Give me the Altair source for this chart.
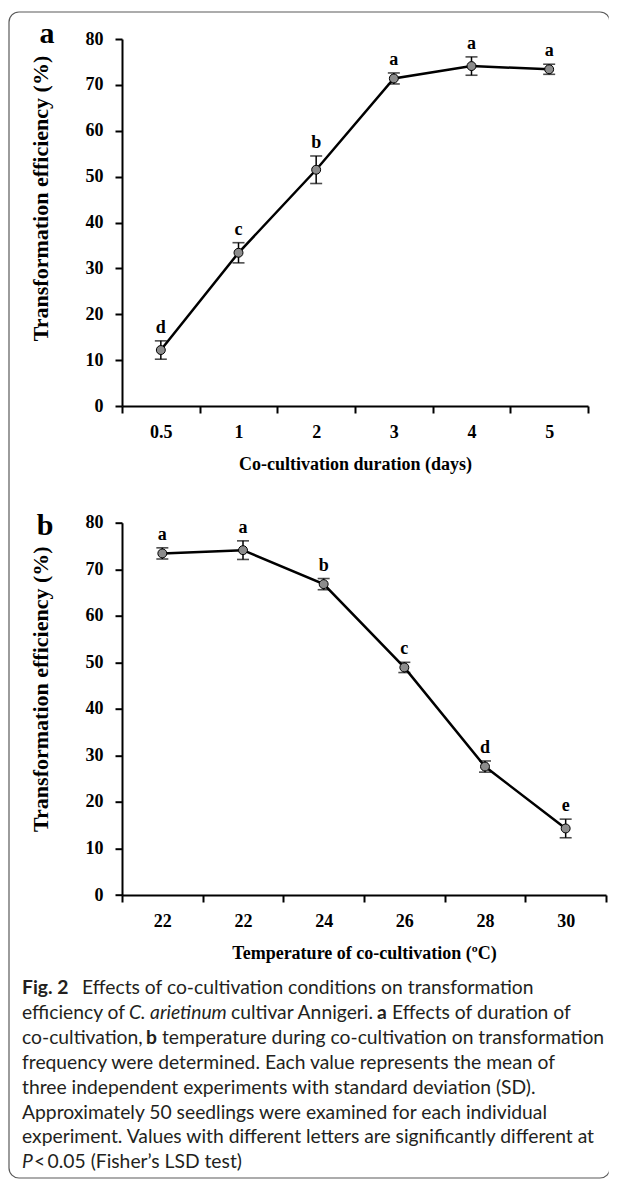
import json
import altair as alt
import pandas as pd

# ---------------- data ----------------
a_labels = ["0.5", "1", "2", "3", "4", "5"]
a_mean = [12.2, 33.4, 51.5, 71.4, 74.1, 73.4]
a_sd = [2.0, 2.2, 3.0, 1.2, 2.0, 1.1]
a_letters = ["d", "c", "b", "a", "a", "a"]

b_labels = ["22", "22", "24", "26", "28", "30"]
b_mean = [73.4, 74.1, 66.8, 48.9, 27.6, 14.3]
b_sd = [1.2, 2.0, 1.2, 1.1, 1.2, 2.0]
b_letters = ["a", "a", "b", "c", "d", "e"]

y_ticks = [0, 10, 20, 30, 40, 50, 60, 70, 80]

caption_text = [
    [("Fig. 2", "bold"), ("Effects of co-cultivation conditions on transformation", "normal")],
    [("efficiency of", "normal"), ("C. arietinum", "italic"), ("cultivar Annigeri.", "normal"),
     ("a", "bold"), ("Effects of duration of", "normal")],
    [("co-cultivation,", "normal"), ("b", "bold"),
     ("temperature during co-cultivation on transformation", "normal")],
    [("frequency were determined. Each value represents the mean of", "normal")],
    [("three independent experiments with standard deviation (SD).", "normal")],
    [("Approximately 50 seedlings were examined for each individual", "normal")],
    [("experiment. Values with different letters are significantly different at", "normal")],
    [("P", "italic"), ("\u2009<\u20090.05 (Fisher\u2019s LSD test)", "normal")],
]
# left edge (page px) of each caption segment
caption_x = [
    [22, 82],
    [22, 129, 231, 377, 392],
    [22, 146, 162],
    [22], [22], [22], [22],
    [22, 34],
]

SERIF = "Liberation Serif"
SANS = "Lato"
ORIGIN_X = 122
dummy = pd.DataFrame({"k": [0]})


def make_panel(labels, mean, sd, letters, width, height, xtitle, ytitle_y, tag, tag_x, tag_y, extra=()):
    df = pd.DataFrame({
        "idx": list(range(len(labels))),
        "mean": mean,
        "lo": [m - s for m, s in zip(mean, sd)],
        "hi": [m + s for m, s in zip(mean, sd)],
        "letter": letters,
    })
    label_expr = json.dumps(labels) + "[datum.value]"
    xs = alt.Scale(type="band", paddingInner=0, paddingOuter=0)
    xa = alt.Axis(title=xtitle, labelExpr=label_expr, labelAngle=0, tickBand="extent",
                  labelPadding=10, titleFontSize=18, titleY=49, titleBaseline="top")
    x = alt.X("idx:O", scale=xs, axis=xa)
    ys = alt.Scale(domain=[0, 80], nice=False)
    ya = alt.Axis(values=y_ticks, title="Transformation efficiency (%)", titleFontSize=22,
                  titleAngle=270, titleX=-75, titleY=ytitle_y, titleAlign="center",
                  titleBaseline="alphabetic", labelPadding=12)

    def Y(f):
        return alt.Y(f + ":Q", scale=ys, axis=ya)

    base = alt.Chart(df)
    line = base.mark_line(color="black", strokeWidth=2.5).encode(x=x, y=Y("mean"))
    bars = base.mark_rule(color="black", strokeWidth=1.5).encode(x=x, y=Y("lo"), y2="hi:Q")
    cap_lo = base.mark_tick(color="black", size=12, thickness=1.6).encode(x=x, y=Y("lo"))
    cap_hi = base.mark_tick(color="black", size=12, thickness=1.6).encode(x=x, y=Y("hi"))
    pts = base.mark_point(shape="circle", filled=True, fill="#8c8c8c", stroke="black",
                          strokeWidth=1, size=80, opacity=1).encode(x=x, y=Y("mean"))
    lett = base.mark_text(font=SERIF, fontWeight="bold", fontSize=18, baseline="alphabetic",
                          dy=-8, color="black").encode(x=x, y=Y("hi"), text="letter:N")
    tagm = alt.Chart(dummy).mark_text(text=tag, font=SERIF, fontWeight="bold", fontSize=30,
                                      align="center", baseline="alphabetic", color="black").encode(
        x=alt.value(tag_x), y=alt.value(tag_y))
    return alt.layer(*extra, line, bars, cap_lo, cap_hi, pts, lett, tagm).properties(
        width=width, height=height)


# frame round the figure (its right side sits at the page edge and is hidden)
border = alt.Chart(dummy).mark_rect(cornerRadius=10, fillOpacity=0, stroke="#5a5a5a",
                                    strokeWidth=1.2).encode(
    x=alt.value(-113), x2=alt.value(488), y=alt.value(-27), y2=alt.value(1139))
border_cover = alt.Chart(dummy).mark_rule(color="white", strokeWidth=2.5).encode(
    x=alt.value(488), y=alt.value(-24), y2=alt.value(1136))

caption_layers = []
for i, (segs, xs_) in enumerate(zip(caption_text, caption_x)):
    for (txt, style), xp in zip(segs, xs_):
        kw = {}
        if style == "bold":
            kw["fontWeight"] = "bold"
        if style == "italic":
            kw["fontStyle"] = "italic"
        caption_layers.append(
            alt.Chart(dummy).mark_text(text=txt, font=SANS, fontSize=19.3, align="left",
                                       baseline="middle", color="#231f20", **kw).encode(
                x=alt.value(xp - ORIGIN_X), y=alt.value(988 - 522.7 + 24.9 * i)))

panel_a = make_panel(a_labels, a_mean, a_sd, a_letters, 466, 367,
                     "Co-cultivation duration (days)", 159, "a", -75, 4,
                     extra=(border, border_cover))
panel_b = make_panel(b_labels, b_mean, b_sd, b_letters, 484, 372.3,
                     "Temperature of co-cultivation (\u00baC)", 166, "b", -77, 12,
                     extra=tuple(caption_layers))

chart = alt.vconcat(panel_a, panel_b, spacing=116.7, bounds="flush").properties(
    padding={"left": 0, "top": 3, "right": 0, "bottom": 0}
).configure_view(strokeWidth=0).configure_axis(
    grid=False, domainColor="black", domainWidth=2, tickColor="black", tickWidth=2, tickSize=7,
    labelFont=SERIF, labelFontWeight="bold", labelFontSize=18, labelColor="black",
    titleFont=SERIF, titleFontWeight="bold", titleColor="black")

chart.save("out.html", embed_options={"renderer": "svg", "actions": False})
